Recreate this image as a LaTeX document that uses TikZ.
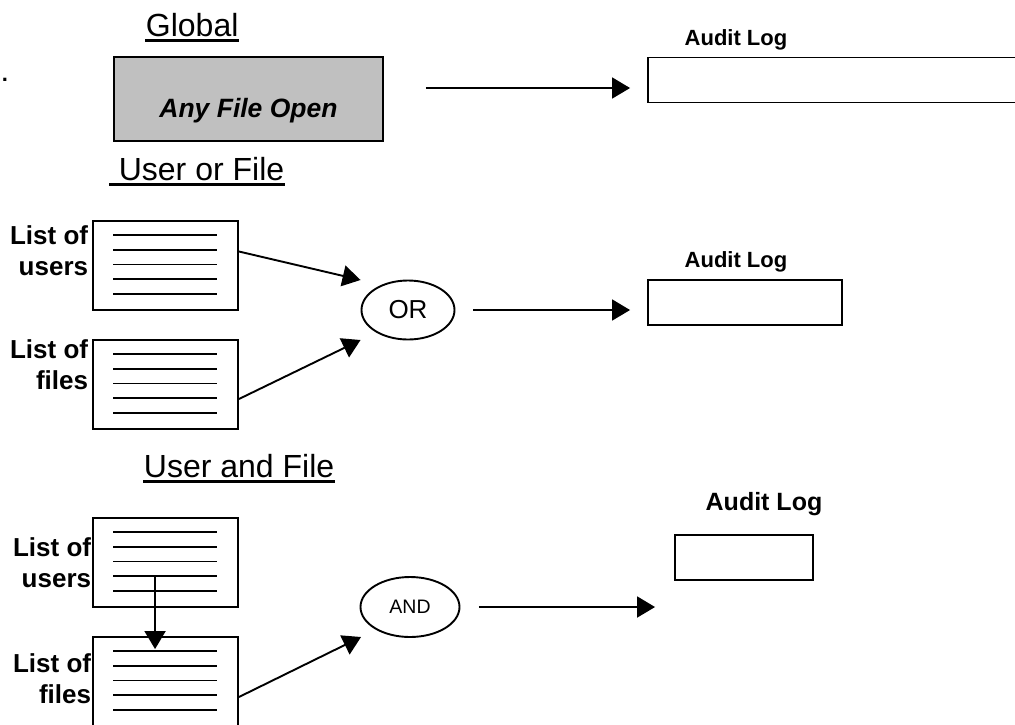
\documentclass[tikz,border=0pt]{standalone}
\usepackage{fontspec}
\setmainfont{Liberation Sans}
\usetikzlibrary{arrows.meta,positioning,calc,shapes.geometric}
\definecolor{boxgrey}{RGB}{192,192,192}

\begin{document}
\begin{tikzpicture}[
  x=1pt, y=-1pt, line width=1.9pt, >={Triangle[length=18pt,width=21pt]},
  title/.style={inner sep=0pt, anchor=base west, font=\fontsize{32}{38}\selectfont},
  uline/.style={line width=2.4pt},
  greybox/.style={draw, fill=boxgrey, minimum width=269pt, minimum height=84pt, inner sep=0pt},
  logbox/.style={draw, minimum height=45pt, inner sep=0pt},
  loglab/.style={font=\bfseries\fontsize{22}{26}\selectfont, inner sep=0pt},
  listbox/.style={draw, minimum width=145pt, minimum height=89pt, inner sep=0pt},
  lbl/.style={align=right, font=\bfseries\fontsize{26}{31}\selectfont, inner sep=0pt},
  gate/.style={draw, ellipse, inner sep=0pt, minimum height=59pt}]
\useasboundingbox (0,0) rectangle (1015,724);
% global
\node[font=\bfseries\fontsize{22}{26}\selectfont, inner sep=0pt] (dot) at (5,80) {.};
\node[title] (ttl1) at (145,36) {Global};
\node[greybox] (glob) at (248.5,99) {};
\node[font=\bfseries\itshape\fontsize{26.5}{30}\selectfont] (any) at ([yshift=-12pt]glob.center) {Any File Open};
\node[logbox, minimum width=382pt] (log1) at (839,80) {};
\node[loglab] (lab1) at (736,40) {Audit Log};
\draw[->] ($(glob.east)+(42,-11)$) -- ($(log1.west)+(-17,8)$);
% user or file
\node[title] (ttl2) at (109,180) {\ User or File};
\node[listbox] (us2) at (165.5,265.5) {};
\node[listbox] (fl2) at (165.5,384.5) {};
\node[lbl, left=3pt of us2, yshift=15pt] (us2l) {List of\\users};
\node[lbl, left=3pt of fl2, yshift=20pt] (fl2l) {List of\\files};
\node[gate, minimum width=93pt, font=\fontsize{26}{30}\selectfont] (orn) at (408,310) {OR};
\node[logbox, minimum width=194pt] (log2) at (745,302.5) {};
\node[loglab] (lab2) at (736,262) {Audit Log};
\draw[->] ([yshift=14pt]us2.east) -- ($(orn.west)+(0,-30)$);
\draw[->] ([yshift=-14.5pt]fl2.east) -- ($(orn.west)+(0,30)$);
\draw[->] ([xshift=18pt]orn.east) -- ($(log2.west |- orn.east)+(-17,0)$);
% user and file
\node[title] (ttl3) at (143,477) {User and File};
\node[listbox] (us3) at (165.5,562.5) {};
\node[listbox] (fl3) at (165.5,681.5) {};
\node[lbl, left=0pt of us3] (us3l) {List of\\users};
\node[lbl, left=0pt of fl3, yshift=2.5pt] (fl3l) {List of\\files};
\node[gate, minimum width=99pt, minimum height=60pt, font=\fontsize{19.5}{24}\selectfont] (andn) at (410,607) {AND};
\node[logbox, minimum width=138pt] (log3) at (744,557.5) {};
\node[loglab, font=\bfseries\fontsize{25}{30}\selectfont] (lab3) at (764,504) {Audit Log};
\draw[->] ($(us3.north west)+(63,60)$) -- ($(fl3.north west)+(63,13)$);
\draw[->] ([yshift=-15.5pt]fl3.east) -- ($(andn.west)+(1.5,30)$);
\draw[->] ([xshift=18.5pt]andn.east) -- ($(log3.west)+(-19,49.5)$);
% underlines and list rules
\foreach \t in {ttl1,ttl2,ttl3}
  \draw[uline] ([yshift=-4.5pt]\t.base west) -- ([yshift=-4.5pt]\t.base east);
\foreach \b in {us2,fl2,us3,fl3}
  \foreach \k in {1,...,5}
    \draw ($(\b.north west)+(21,14.8*\k)$) -- ++(104,0);
\end{tikzpicture}
\end{document}
